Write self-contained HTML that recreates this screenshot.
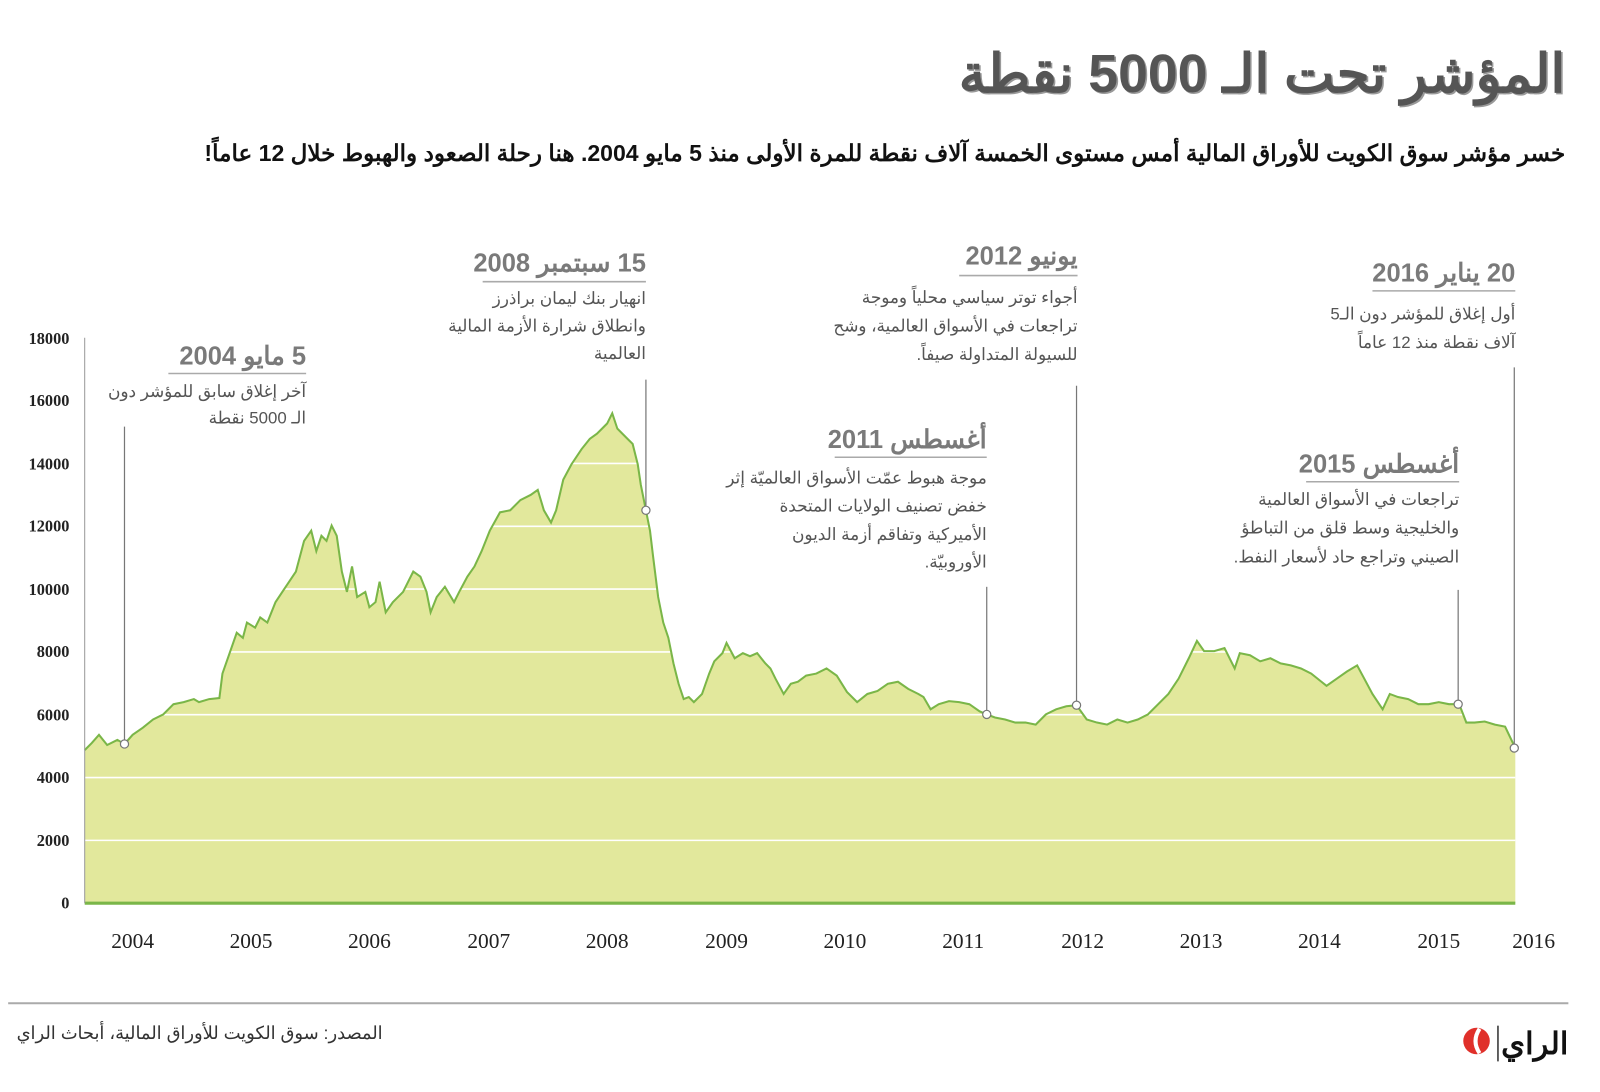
<!DOCTYPE html>
<html><head><meta charset="utf-8"><style>
html,body{margin:0;padding:0;background:#fff;width:1600px;height:1092px;overflow:hidden}
svg{display:block}
.ar{font-family:"Liberation Sans","Noto Sans CJK SC",sans-serif;direction:rtl}
.t{font-weight:bold;fill:#7a7a7a;font-size:25px}
.b{fill:#555;font-size:16.5px}
.ax{font-family:"Liberation Serif",serif;fill:#222}
</style></head><body>
<svg width="1600" height="1092" viewBox="0 0 1568 1070" preserveAspectRatio="none" xmlns="http://www.w3.org/2000/svg">
<text class="ar" x="1534" y="90" text-anchor="start" font-size="52.5" font-weight="bold" fill="#999" transform="translate(1.5,1.5)">المؤشر تحت الـ 5000 نقطة</text>
<text class="ar" x="1534" y="90" text-anchor="start" font-size="52.5" font-weight="bold" fill="#555">المؤشر تحت الـ 5000 نقطة</text>
<text class="ar" x="1534" y="158" text-anchor="start" font-size="22.6" font-weight="bold" fill="#111">خسر مؤشر سوق الكويت للأوراق المالية أمس مستوى الخمسة آلاف نقطة للمرة الأولى منذ 5 مايو 2004. هنا رحلة الصعود والهبوط خلال 12 عاماً!</text>

<polygon fill="#e2e89c" points="83,885 83,735 90,728 97,720 105,730 115,725 122,729 130,720 140,713 150,705 160,700 170,690 180,688 190,685 195,688 205,685 215,684 218,660 225,640 232,620 238,625 242,610 250,615 255,605 262,610 270,590 280,575 290,560 298,530 305,520 310,540 315,525 320,530 325,515 330,525 335,560 340,580 345,555 350,585 358,580 362,595 368,590 372,570 378,600 385,590 395,580 405,560 412,565 418,580 422,600 428,585 436,575 445,590 450,580 458,565 465,555 472,540 480,520 490,502 500,500 510,490 520,485 527,480 533,500 540,512 545,500 552,470 560,455 570,440 578,430 585,425 590,420 595,415 600,405 605,420 610,425 615,430 620,435 625,455 628,475 633,500 637,520 640,545 645,585 650,610 655,625 660,650 665,670 670,685 675,683 680,688 688,680 695,660 700,648 708,640 712,630 720,645 728,640 735,643 742,640 750,650 755,655 760,665 768,680 775,670 782,668 790,662 800,660 810,655 820,662 830,678 840,688 850,680 860,677 870,670 880,668 890,675 900,680 905,683 912,695 920,690 930,687 940,688 950,690 960,697 967,700 975,703 985,705 995,708 1005,708 1015,710 1025,700 1035,695 1045,692 1055,691 1060,698 1065,705 1075,708 1085,710 1095,705 1105,708 1115,705 1125,700 1135,690 1145,680 1155,665 1165,645 1173,628 1180,638 1190,638 1200,635 1210,655 1215,640 1225,642 1235,648 1245,645 1255,650 1265,652 1275,655 1285,660 1295,668 1300,672 1310,665 1320,658 1330,652 1337,665 1345,680 1355,695 1362,680 1370,683 1380,685 1390,690 1400,690 1410,688 1420,690 1430,690 1437,708 1445,708 1455,707 1465,710 1475,712 1485,733 1485,885"/>
<g stroke="#fff" stroke-width="1.5">
<line x1="83" y1="823.4" x2="1485" y2="823.4"/><line x1="83" y1="761.9" x2="1485" y2="761.9"/><line x1="83" y1="700.3" x2="1485" y2="700.3"/><line x1="83" y1="638.8" x2="1485" y2="638.8"/><line x1="83" y1="577.2" x2="1485" y2="577.2"/><line x1="83" y1="515.7" x2="1485" y2="515.7"/><line x1="83" y1="454.1" x2="1485" y2="454.1"/><line x1="83" y1="392.6" x2="1485" y2="392.6"/>
</g>
<polyline fill="none" stroke="#7ab648" stroke-width="2" points="83,735 90,728 97,720 105,730 115,725 122,729 130,720 140,713 150,705 160,700 170,690 180,688 190,685 195,688 205,685 215,684 218,660 225,640 232,620 238,625 242,610 250,615 255,605 262,610 270,590 280,575 290,560 298,530 305,520 310,540 315,525 320,530 325,515 330,525 335,560 340,580 345,555 350,585 358,580 362,595 368,590 372,570 378,600 385,590 395,580 405,560 412,565 418,580 422,600 428,585 436,575 445,590 450,580 458,565 465,555 472,540 480,520 490,502 500,500 510,490 520,485 527,480 533,500 540,512 545,500 552,470 560,455 570,440 578,430 585,425 590,420 595,415 600,405 605,420 610,425 615,430 620,435 625,455 628,475 633,500 637,520 640,545 645,585 650,610 655,625 660,650 665,670 670,685 675,683 680,688 688,680 695,660 700,648 708,640 712,630 720,645 728,640 735,643 742,640 750,650 755,655 760,665 768,680 775,670 782,668 790,662 800,660 810,655 820,662 830,678 840,688 850,680 860,677 870,670 880,668 890,675 900,680 905,683 912,695 920,690 930,687 940,688 950,690 960,697 967,700 975,703 985,705 995,708 1005,708 1015,710 1025,700 1035,695 1045,692 1055,691 1060,698 1065,705 1075,708 1085,710 1095,705 1105,708 1115,705 1125,700 1135,690 1145,680 1155,665 1165,645 1173,628 1180,638 1190,638 1200,635 1210,655 1215,640 1225,642 1235,648 1245,645 1255,650 1265,652 1275,655 1285,660 1295,668 1300,672 1310,665 1320,658 1330,652 1337,665 1345,680 1355,695 1362,680 1370,683 1380,685 1390,690 1400,690 1410,688 1420,690 1430,690 1437,708 1445,708 1455,707 1465,710 1475,712 1485,733"/>
<line x1="83" y1="885" x2="1485" y2="885" stroke="#7ab648" stroke-width="3"/>
<line x1="83" y1="331" x2="83" y2="885" stroke="#999" stroke-width="1"/>

<g class="ax" font-size="16" font-weight="bold" text-anchor="end">
<text x="68" y="890">0</text><text x="68" y="829">2000</text><text x="68" y="767">4000</text><text x="68" y="706">6000</text><text x="68" y="644">8000</text><text x="68" y="583">10000</text><text x="68" y="521">12000</text><text x="68" y="460">14000</text><text x="68" y="398">16000</text><text x="68" y="337">18000</text>
</g>
<g class="ax" font-size="21" text-anchor="middle">
<text x="130" y="929">2004</text><text x="246" y="929">2005</text><text x="362" y="929">2006</text><text x="479" y="929">2007</text><text x="595" y="929">2008</text><text x="712" y="929">2009</text><text x="828" y="929">2010</text><text x="944" y="929">2011</text><text x="1061" y="929">2012</text><text x="1177" y="929">2013</text><text x="1293" y="929">2014</text><text x="1410" y="929">2015</text><text x="1503" y="929">2016</text>
</g>

<g stroke="#777" stroke-width="1.2">
<line x1="122" y1="418" x2="122" y2="729"/><line x1="633" y1="372" x2="633" y2="500"/><line x1="1055" y1="378" x2="1055" y2="691"/><line x1="1484" y1="360" x2="1484" y2="733"/><line x1="967" y1="575" x2="967" y2="700"/><line x1="1429" y1="578" x2="1429" y2="690"/>
</g>
<g stroke="#aaa" stroke-width="1.5">
<line x1="165" y1="366" x2="300" y2="366"/><line x1="473" y1="276" x2="633" y2="276"/><line x1="940" y1="270" x2="1056" y2="270"/><line x1="1345" y1="285" x2="1485" y2="285"/><line x1="818" y1="448" x2="967" y2="448"/><line x1="1280" y1="472" x2="1430" y2="472"/>
</g>
<g fill="#fff" stroke="#777" stroke-width="1.2">
<circle cx="122" cy="729" r="4"/><circle cx="633" cy="500" r="4"/><circle cx="1055" cy="691" r="4"/><circle cx="1484" cy="733" r="4"/><circle cx="967" cy="700" r="4"/><circle cx="1429" cy="690" r="4"/>
</g>

<g class="ar" text-anchor="start">
<text class="t" x="300" y="357">5 مايو 2004</text>
<text class="b" x="300" y="389">آخر إغلاق سابق للمؤشر دون</text>
<text class="b" x="300" y="415">الـ 5000 نقطة</text>

<text class="t" x="633" y="266">15 سبتمبر 2008</text>
<text class="b" x="633" y="298">انهيار بنك ليمان براذرز</text>
<text class="b" x="633" y="325">وانطلاق شرارة الأزمة المالية</text>
<text class="b" x="633" y="352">العالمية</text>

<text class="t" x="1056" y="259">يونيو 2012</text>
<text class="b" x="1056" y="297">أجواء توتر سياسي محلياً وموجة</text>
<text class="b" x="1056" y="325">تراجعات في الأسواق العالمية، وشح</text>
<text class="b" x="1056" y="353">للسيولة المتداولة صيفاً.</text>

<text class="t" x="1485" y="276">20 يناير 2016</text>
<text class="b" x="1485" y="313">أول إغلاق للمؤشر دون الـ5</text>
<text class="b" x="1485" y="341">آلاف نقطة منذ 12 عاماً</text>

<text class="t" x="967" y="439">أغسطس 2011</text>
<text class="b" x="967" y="474">موجة هبوط عمّت الأسواق العالميّة إثر</text>
<text class="b" x="967" y="501">خفض تصنيف الولايات المتحدة</text>
<text class="b" x="967" y="529">الأميركية وتفاقم أزمة الديون</text>
<text class="b" x="967" y="556">الأوروبيّة.</text>

<text class="t" x="1430" y="463">أغسطس 2015</text>
<text class="b" x="1430" y="495">تراجعات في الأسواق العالمية</text>
<text class="b" x="1430" y="523">والخليجية وسط قلق من التباطؤ</text>
<text class="b" x="1430" y="551">الصيني وتراجع حاد لأسعار النفط.</text>
</g>

<line x1="8" y1="983" x2="1537" y2="983" stroke="#aaa" stroke-width="2"/>
<text class="ar" x="375" y="1018" text-anchor="start" font-size="17.5" fill="#333">المصدر: سوق الكويت للأوراق المالية، أبحاث الراي</text>
<circle cx="1447" cy="1020" r="13" fill="#e0302a"/>
<path d="M1450,1008 q-8,12 0,24" stroke="#fff" stroke-width="4" fill="none"/>
<line x1="1468" y1="1005" x2="1468" y2="1040" stroke="#333" stroke-width="1.5"/>
<text class="ar" x="1537" y="1033" text-anchor="start" font-size="30" font-weight="bold" fill="#111">الراي</text>
</svg>
</body></html>
